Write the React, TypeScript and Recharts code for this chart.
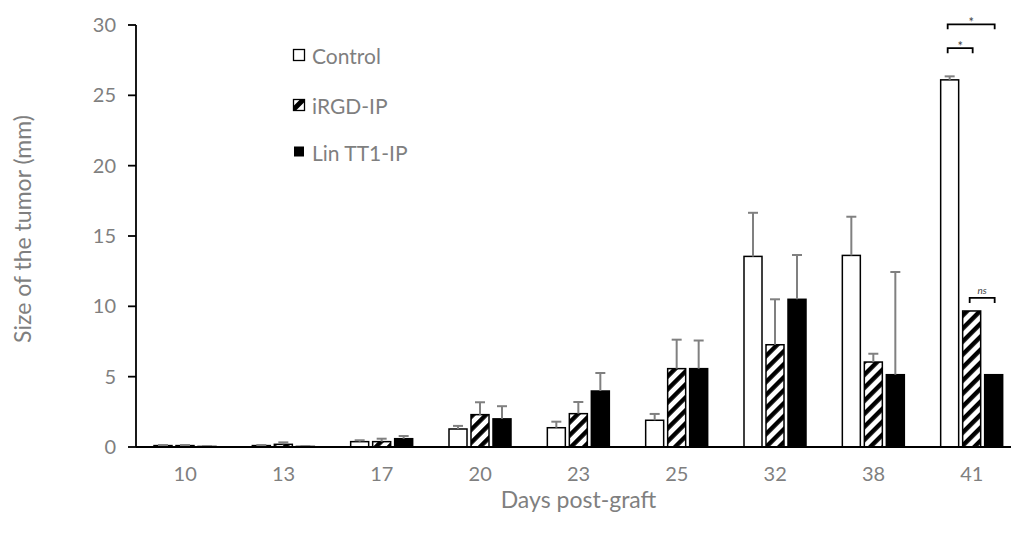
import React from 'react';
import { BarChart, Bar, XAxis, YAxis, Legend } from 'recharts';

const days = ['10', '13', '17', '20', '23', '25', '32', '38', '41'];
const controlMean = [0.1, 0.1, 0.38, 1.28, 1.37, 1.9, 13.55, 13.62, 26.1];
const controlErr = [0.04, 0.04, 0.1, 0.22, 0.43, 0.45, 3.1, 2.75, 0.25];
const irgdMean = [0.1, 0.19, 0.38, 2.3, 2.37, 5.57, 7.27, 6.04, 9.67];
const irgdErr = [0.04, 0.14, 0.21, 0.88, 0.83, 2.06, 3.23, 0.59, 0];
const linMean = [0.04, 0.04, 0.59, 2.0, 3.98, 5.57, 10.5, 5.14, 5.14];
const linErr = [0.02, 0.02, 0.19, 0.9, 1.28, 2.0, 3.15, 7.3, 0];
const yTicks = [0, 5, 10, 15, 20, 25, 30];

// significance brackets on the last group (series index from / to)
const bracketDay = '41';
const brackets = [
  { from: 0, to: 2, level: 30.05, label: '*' },
  { from: 0, to: 1, level: 28.35, label: '*' },
  { from: 1, to: 2, level: 10.6, label: 'ns' },
];

const data = days.map((d, i) => ({
  day: d,
  control: controlMean[i],
  controlErr: controlErr[i],
  irgd: irgdMean[i],
  irgdErr: irgdErr[i],
  lin: linMean[i],
  linErr: linErr[i],
}));

const FONT = 'Lato, "Open Sans", sans-serif';
const TEXT = '#7f7f7f';
const BAR_GAP = 4;

function makeShape(meanKey: string, errKey: string, fill: string, withBrackets: boolean) {
  return (props: any) => {
    const { x, y, width, height, payload } = props;
    const v = payload[meanKey];
    const e = payload[errKey];
    const k = v > 0 ? height / v : 0;
    const cx = x + width / 2;
    const top = y - e * k;
    const base = y + height;
    return (
      <g>
        <rect x={x} y={y} width={width} height={height} fill={fill} stroke="#000" strokeWidth={1.5} />
        {e > 0 && (
          <g stroke="#808080" strokeWidth={2}>
            <line x1={cx} y1={y} x2={cx} y2={top} />
            <line x1={cx - 5} y1={top} x2={cx + 5} y2={top} />
          </g>
        )}
        {withBrackets && payload.day === bracketDay &&
          brackets.map((b, i) => {
            const left = x + b.from * (width + BAR_GAP) + 7;
            const right = x + b.to * (width + BAR_GAP) + 10;
            const ly = base - b.level * k;
            const mid = (left + right) / 2;
            return (
              <g key={i}>
                <path d={`M${left},${ly + 5} V${ly} H${right} V${ly + 5}`} fill="none" stroke="#000" strokeWidth={1.8} />
                {b.label === '*' ? (
                  <text x={mid} y={ly + 3} textAnchor="middle" fontSize={13} fill="#444" fontFamily={FONT}>*</text>
                ) : (
                  <text x={mid} y={ly - 3.5} textAnchor="middle" fontSize={10} fontStyle="italic" fill="#444" fontFamily={FONT}>{b.label}</text>
                )}
              </g>
            );
          })}
      </g>
    );
  };
}

const LegendBox = () => (
  <svg width={170} height={140} style={{ overflow: 'visible' }}>
    <rect x={5.5} y={11.5} width={11} height={11} fill="#fff" stroke="#000" strokeWidth={1.3} />
    <text x={24} y={17} dominantBaseline="central" fontSize={21} fill={TEXT} fontFamily={FONT}>Control</text>
    <rect x={5.5} y={61.5} width={11} height={11} fill="#fff" stroke="#000" strokeWidth={1.3} />
    <path d="M5.5,72.5 L5.5,68 L12,61.5 L16.5,61.5 L16.5,64 L8,72.5 Z" fill="#000" />
    <text x={24} y={67} dominantBaseline="central" fontSize={21} fill={TEXT} fontFamily={FONT}>iRGD-IP</text>
    <rect x={6} y={108.5} width={10} height={10} fill="#000" />
    <text x={24} y={114} dominantBaseline="central" fontSize={21} fill={TEXT} fontFamily={FONT}>Lin TT1-IP</text>
  </svg>
);

export default function App() {
  return (
    <div style={{ position: 'absolute', left: 0, top: 0, width: 1011, height: 536, overflow: 'hidden', background: '#fff' }}>
      <BarChart
        width={1021}
        height={536}
        data={data}
        margin={{ top: 25, right: 0, bottom: 0, left: 0 }}
        barSize={18}
        barGap={BAR_GAP}
      >
        <defs>
          <pattern id="hatch" patternUnits="userSpaceOnUse" width={9.2} height={9.2} patternTransform="rotate(45)">
            <rect width={9.2} height={9.2} fill="#fff" />
            <rect width={4.4} height={9.2} fill="#000" />
          </pattern>
        </defs>
        <XAxis
          dataKey="day"
          height={89}
          tickLine={false}
          axisLine={{ stroke: '#000', strokeWidth: 1.8 }}
          tick={{ fontSize: 20, fill: TEXT, fontFamily: FONT }}
          tickMargin={14}
          label={{
            content: (p: any) => {
              const vb = p.viewBox || {};
              return (
                <text x={vb.x + vb.width / 2} y={508} textAnchor="middle" fontSize={23} fill={TEXT} fontFamily={FONT}>
                  Days post-graft
                </text>
              );
            },
          }}
        />
        <YAxis
          width={136}
          domain={[0, 30]}
          ticks={yTicks}
          interval={0}
          tickSize={8}
          tickMargin={12}
          tickLine={{ stroke: '#000', strokeWidth: 1.8 }}
          axisLine={{ stroke: '#000', strokeWidth: 1.8 }}
          tick={{ fontSize: 20, fill: TEXT, fontFamily: FONT }}
          label={{
            content: () => (
              <text x={31} y={229} transform="rotate(-90, 31, 229)" textAnchor="middle" fontSize={23} fill={TEXT} fontFamily={FONT}>
                Size of the tumor (mm)
              </text>
            ),
          }}
        />
        <Legend
          layout="vertical"
          align="center"
          verticalAlign="middle"
          wrapperStyle={{ left: 288, top: 38, width: 170, height: 140 }}
          content={() => <LegendBox />}
        />
        <Bar dataKey="control" name="Control" isAnimationActive={false} shape={makeShape('control', 'controlErr', '#fff', true)} />
        <Bar dataKey="irgd" name="iRGD-IP" isAnimationActive={false} shape={makeShape('irgd', 'irgdErr', 'url(#hatch)', false)} />
        <Bar dataKey="lin" name="Lin TT1-IP" isAnimationActive={false} shape={makeShape('lin', 'linErr', '#000', false)} />
      </BarChart>
    </div>
  );
}
